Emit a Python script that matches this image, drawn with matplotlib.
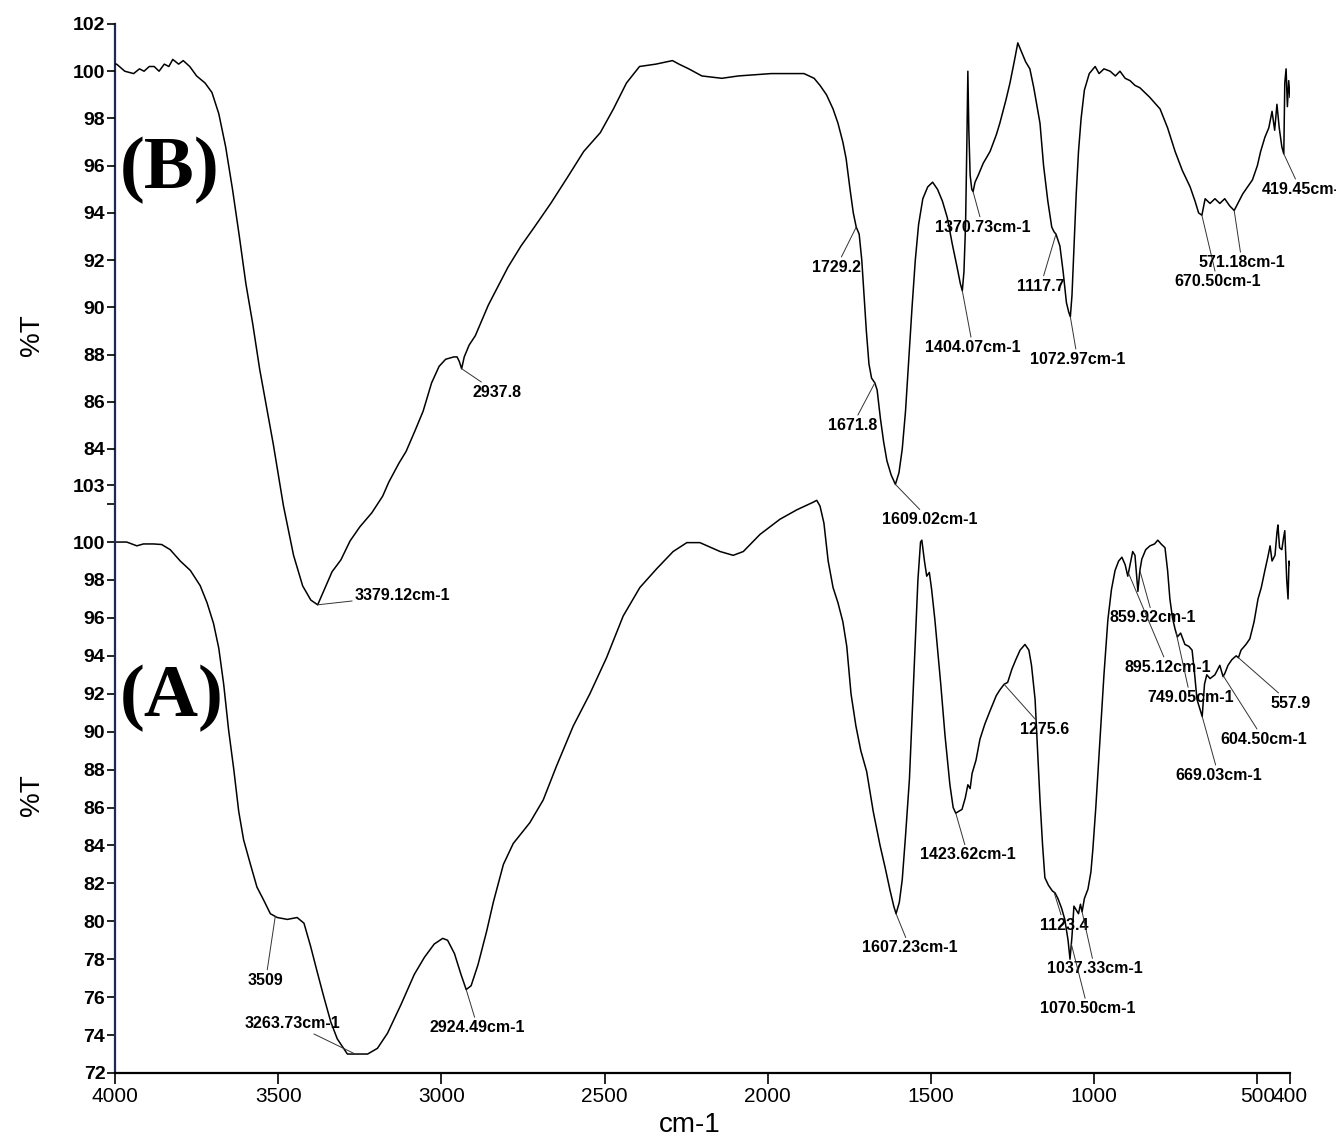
import numpy as np
import matplotlib.pyplot as plt

plt.rcParams['font.family'] = ['Liberation Sans', 'DejaVu Sans']

# ---- spectrum B (upper trace, own %T scale) ----
b_wn = [4000, 3995, 3970, 3943, 3925, 3911, 3895, 3880, 3865, 3849, 3835, 3823,
        3805, 3791, 3771, 3750, 3724, 3703, 3682, 3661, 3640, 3619, 3599, 3578,
        3557, 3536, 3515, 3484, 3453, 3425, 3400, 3379, 3360, 3335, 3308, 3280,
        3250, 3213, 3180, 3161, 3130, 3108, 3080, 3056, 3030, 3007, 2987, 2962,
        2952, 2945, 2938, 2930, 2915, 2896, 2856, 2826, 2796, 2756, 2715, 2665,
        2614, 2564, 2513, 2473, 2433, 2393, 2343, 2292, 2272, 2242, 2202, 2141,
        2090, 2040, 1990, 1939, 1889, 1858, 1840, 1820, 1800, 1785, 1770, 1760,
        1748, 1738, 1729, 1720, 1712, 1705, 1698, 1690, 1682, 1672, 1665, 1655,
        1645, 1635, 1622, 1609, 1598, 1588, 1578, 1568, 1558, 1548, 1538, 1525,
        1510, 1495, 1480, 1465, 1450, 1435, 1420, 1410, 1404, 1399, 1394, 1390,
        1387, 1384, 1380, 1375, 1371, 1365, 1355, 1340, 1319, 1300, 1289, 1270,
        1258, 1245, 1234, 1222, 1210, 1197, 1185, 1175, 1166, 1155, 1142, 1130,
        1123, 1117, 1105, 1095, 1085, 1078, 1073, 1068, 1062, 1055, 1048, 1040,
        1030, 1015, 997, 985, 970, 951, 935, 921, 905, 890, 875, 860, 830, 798,
        775, 752, 730, 706, 691, 680, 670, 660, 645, 630, 615, 600, 585, 571,
        560, 545, 530, 515, 500, 490, 477, 465, 455, 447, 440, 433, 425, 419,
        416, 412, 408, 404, 400]
b_t = [100.3, 100.3, 100.0, 99.9, 100.1, 100.0, 100.2, 100.2, 100.0, 100.3, 100.2, 100.5,
       100.3, 100.45, 100.2, 99.8, 99.5, 99.1, 98.2, 96.8, 95.0, 93.0, 91.0, 89.3,
       87.4, 85.8, 84.2, 81.6, 79.5, 78.2, 77.6, 77.4, 78.0, 78.8, 79.3, 80.1,
       80.7, 81.3, 82.0, 82.6, 83.4, 83.9, 84.8, 85.6, 86.8, 87.5, 87.8, 87.9,
       87.9, 87.7, 87.4, 87.9, 88.4, 88.8, 90.1, 90.9, 91.7, 92.6, 93.4, 94.4,
       95.5, 96.6, 97.4, 98.4, 99.5, 100.2, 100.3, 100.45, 100.3, 100.1, 99.8, 99.7,
       99.8, 99.85, 99.9, 99.9, 99.9, 99.7, 99.4, 99.0, 98.4, 97.8, 97.0, 96.3,
       95.0, 94.0, 93.4, 93.1, 92.0, 90.5, 89.0, 87.6, 87.0, 86.8, 86.5, 85.3,
       84.3, 83.5, 82.9, 82.5, 83.0, 84.0, 85.6, 87.8, 90.0, 92.0, 93.5, 94.6,
       95.1, 95.3, 95.0, 94.5, 93.8, 92.7, 91.7, 91.0, 90.7, 91.5, 93.5, 97.0,
       100.0, 97.5, 95.6, 95.0, 94.9, 95.3, 95.6, 96.1, 96.6, 97.3, 97.8, 98.8,
       99.5, 100.4, 101.2, 100.8, 100.4, 100.1, 99.3, 98.5, 97.8, 96.0, 94.5, 93.4,
       93.2, 93.1, 92.6, 91.5, 90.2, 89.8, 89.6, 90.5, 92.5, 94.8, 96.6, 98.0,
       99.2, 99.9, 100.2, 99.9, 100.1, 100.0, 99.8, 100.0, 99.7, 99.6, 99.4, 99.3, 98.9, 98.4,
       97.6, 96.6, 95.8, 95.1, 94.5, 94.0, 93.9, 94.6, 94.4, 94.6, 94.4, 94.6, 94.3, 94.1,
       94.4, 94.8, 95.1, 95.4, 96.0, 96.6, 97.2, 97.6, 98.3, 97.5, 98.6, 97.6, 96.8, 96.5,
       99.5, 100.1, 98.5, 99.6, 98.9]

# ---- spectrum A (lower trace) ----
a_wn = [4000, 3964, 3933, 3913, 3882, 3857, 3831, 3800, 3769, 3739, 3718, 3698,
        3682, 3667, 3652, 3636, 3621, 3606, 3585, 3565, 3544, 3524, 3503, 3472,
        3442, 3421, 3401, 3380, 3360, 3339, 3319, 3288, 3257, 3226, 3196, 3165,
        3124, 3083, 3052, 3022, 2996, 2981, 2960, 2940, 2924, 2909, 2888, 2861,
        2841, 2810, 2780, 2729, 2688, 2647, 2596, 2545, 2494, 2443, 2392, 2340,
        2290, 2248, 2208, 2146, 2106, 2075, 2024, 1963, 1911, 1861, 1850, 1840,
        1828, 1815, 1800, 1785, 1770, 1758, 1745, 1730, 1715, 1697, 1677, 1656,
        1640, 1625, 1614, 1607,
        1597, 1588, 1578, 1566, 1556, 1549, 1540, 1532, 1528, 1520, 1513, 1505,
        1498, 1488, 1470, 1457, 1442, 1432, 1424, 1415, 1405, 1395, 1387, 1380,
        1374, 1362, 1350, 1335, 1319, 1300, 1289, 1276, 1265, 1252, 1240, 1227,
        1212, 1200, 1192, 1181, 1172, 1166, 1158, 1151, 1140, 1128, 1120, 1111,
        1100, 1090, 1080, 1074, 1068, 1062, 1055, 1048, 1042, 1037, 1030, 1019,
        1010, 1004, 995, 982, 970, 958, 947, 936, 925, 915, 905, 897, 890, 882,
        875, 866, 860, 854, 842, 829, 815, 805, 795, 783, 775, 768, 760, 752,
        745, 735, 722, 710, 700, 692, 685, 676, 669, 662, 655, 645, 630, 615,
        605, 599, 590, 578, 565, 558, 550, 535, 523, 510, 498, 488, 477, 468,
        461, 455, 446, 440, 437, 432, 425, 420, 416, 410, 406, 403, 400]
a_t = [100.0, 100.0, 99.8, 99.9, 99.9, 99.87, 99.6, 99.0, 98.5, 97.7, 96.8, 95.7,
       94.4, 92.5, 90.1, 88.0, 85.8, 84.3, 83.0, 81.8, 81.1, 80.4, 80.2, 80.1,
       80.2, 79.9, 78.7, 77.3, 76.0, 74.7, 73.8, 73.0, 73.0, 73.0, 73.3, 74.1,
       75.6, 77.2, 78.1, 78.8, 79.1, 79.0, 78.3, 77.2, 76.4, 76.6, 77.7, 79.5,
       81.0, 83.0, 84.1, 85.2, 86.4, 88.2, 90.3, 92.0, 93.9, 96.1, 97.6, 98.6,
       99.5, 99.97, 99.97, 99.5, 99.3, 99.5, 100.4, 101.2, 101.7, 102.1, 102.2, 101.9,
       101.0, 99.0, 97.6, 96.8, 95.8, 94.5, 92.0, 90.3, 89.0, 87.9, 85.8, 84.0,
       82.8, 81.6, 80.8, 80.4,
       81.0, 82.2, 84.5, 87.5, 91.5, 94.3, 98.0, 100.0, 100.1, 99.0, 98.2, 98.4,
       97.5, 95.9, 92.5, 89.8, 87.2, 86.0, 85.7, 85.8, 85.9, 86.5, 87.2, 87.0,
       87.8, 88.5, 89.6, 90.4, 91.1, 91.9, 92.2, 92.5, 92.6, 93.3, 93.8, 94.3,
       94.6, 94.3, 93.5, 91.7, 88.5, 86.4, 84.0, 82.3, 81.9, 81.6, 81.5, 81.2,
       80.7, 80.1, 79.0, 78.0, 79.2, 80.8, 80.6, 80.4, 80.9, 80.5, 81.2, 81.7,
       82.6, 83.8, 86.0, 89.6, 93.0, 95.9, 97.5, 98.5, 99.0, 99.2, 98.8, 98.2, 98.8, 99.5,
       99.3, 97.4, 98.5, 99.1, 99.6, 99.8, 99.9, 100.1, 99.9, 99.7, 98.5, 97.0, 96.0, 95.4,
       95.0, 95.2, 94.6, 94.5, 94.3, 93.0, 91.7, 91.2, 90.8, 92.5, 93.0, 92.8, 93.0, 93.5,
       92.9, 93.1, 93.5, 93.8, 94.0, 93.9, 94.3, 94.6, 94.9, 95.8, 97.0, 97.6, 98.5, 99.2,
       99.8, 99.0, 99.3, 100.5, 100.9, 99.7, 99.6, 100.2, 100.6, 98.0, 97.0, 99.0, 98.8]

x_ticks = [4000, 3500, 3000, 2500, 2000, 1500, 1000, 500, 400]
a_ticks = [72, 74, 76, 78, 80, 82, 84, 86, 88, 90, 92, 94, 96, 98, 100, 103]
b_ticks = [84, 86, 88, 90, 92, 94, 96, 98, 100, 102]

# (label, peak wavenumber, text wavenumber, text %T)
b_peaks = [
    ("3379.12cm-1", 3379, 3265, 77.8),
    ("2937.8", 2938, 2906, 86.4),
    ("1729.2", 1729, 1865, 91.7),
    ("1671.8", 1672, 1816, 85.0),
    ("1609.02cm-1", 1609, 1650, 81.0),
    ("1404.07cm-1", 1404, 1518, 88.3),
    ("1370.73cm-1", 1371, 1488, 93.4),
    ("1117.7", 1117, 1237, 90.9),
    ("1072.97cm-1", 1073, 1197, 87.8),
    ("670.50cm-1", 670, 755, 91.1),
    ("571.18cm-1", 571, 680, 91.9),
    ("419.45cm-", 419, 488, 95.0),
]
a_peaks = [
    ("3509", 3509, 3593, 76.9),
    ("3263.73cm-1", 3264, 3602, 74.6),
    ("2924.49cm-1", 2924, 3035, 74.4),
    ("1607.23cm-1", 1607, 1711, 78.6),
    ("1423.62cm-1", 1424, 1534, 83.5),
    ("1275.6", 1276, 1227, 90.1),
    ("1123.4", 1123, 1166, 79.8),
    ("1037.33cm-1", 1037, 1145, 77.5),
    ("1070.50cm-1", 1070, 1166, 75.4),
    ("859.92cm-1", 860, 952, 96.0),
    ("895.12cm-1", 895, 906, 93.4),
    ("749.05cm-1", 749, 838, 91.8),
    ("557.9", 558, 461, 91.5),
    ("604.50cm-1", 604, 614, 89.6),
    ("669.03cm-1", 669, 752, 87.7),
]

W, H = 1336, 1141
fig = plt.figure(figsize=(W / 100, H / 100), dpi=100)
ax = fig.add_axes([115 / W, 1 - 1073 / H, (1290 - 115) / W, (1073 - 24) / H])
ax.set_xlim(4000, 400)
ax.set_ylim(72, 127.32)
ax2 = ax.twinx()
ax2.set_ylim(57.57, 102)

ax.plot(a_wn, a_t, color="black", lw=1.1)
ax2.plot(b_wn, b_t, color="black", lw=1.1)

for s in ["top", "right"]:
    ax.spines[s].set_visible(False)
for s in ax2.spines.values():
    s.set_visible(False)
ax.spines["left"].set_linewidth(1.6)
ax.spines["left"].set_color("#1a2a50")
ax.spines["bottom"].set_linewidth(1.6)

tick_font = dict(fontsize=14, fontweight="bold")
ax.set_xticks(x_ticks)
ax.set_xticklabels([str(t) for t in x_ticks], fontsize=15)
ax.tick_params(axis="x", direction="out", length=8, width=1.2, pad=2)
ax.set_yticks(a_ticks)
ax.set_yticklabels([str(t) for t in a_ticks], **tick_font)
ax.set_yticks([102], minor=True)
ax.tick_params(axis="y", which="both", direction="out", length=6, width=1.2, pad=1)
ax2.yaxis.tick_left()
ax2.set_yticks(b_ticks)
ax2.set_yticklabels([str(t) for t in b_ticks], **tick_font)
ax2.tick_params(axis="y", direction="out", length=6, width=1.2, pad=1)

leader = dict(arrowstyle="-", color="#333333", lw=0.7, shrinkA=0, shrinkB=0)
label_font = dict(fontsize=11.5, fontweight="bold")
for label, wn, tx, ty in b_peaks:
    y = np.interp(wn, b_wn[::-1], b_t[::-1])
    ax2.annotate(label, xy=(wn, y), xytext=(tx, ty), ha="left", va="center",
                 arrowprops=leader, annotation_clip=False, **label_font)
for label, wn, tx, ty in a_peaks:
    y = np.interp(wn, a_wn[::-1], a_t[::-1])
    ax.annotate(label, xy=(wn, y), xytext=(tx, ty), ha="left", va="center",
                arrowprops=leader, annotation_clip=False, **label_font)

serif = ["Liberation Serif", "DejaVu Serif"]
fig.text(120 / W, 1 - 170 / H, "(B)", family=serif, fontsize=54,
         fontweight="bold", ha="left", va="center")
fig.text(120 / W, 1 - 698 / H, "(A)", family=serif, fontsize=54,
         fontweight="bold", ha="left", va="center")
fig.text(32 / W, 1 - 335 / H, "%T", fontsize=20, rotation=90,
         ha="center", va="center")
fig.text(32 / W, 1 - 795 / H, "%T", fontsize=20, rotation=90,
         ha="center", va="center")
fig.text(690 / W, 1 - 1125 / H, "cm-1", fontsize=20, ha="center", va="center")

fig.savefig("out.png", dpi=100, facecolor="white")
